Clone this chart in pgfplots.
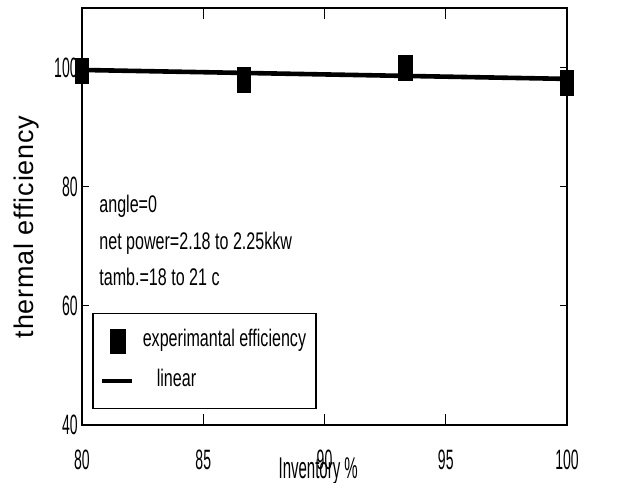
\documentclass[border=0pt]{standalone}
\usepackage{fontspec}
\setmainfont{Liberation Sans}
\newfontfamily\tickfont{Liberation Sans}[FakeStretch=0.5]
\newfontfamily\txtfont{Liberation Sans}[FakeStretch=0.67]
\newfontfamily\ylabfont{Liberation Sans}[LetterSpace=3]
\usepackage{pgfplots}
\pgfplotsset{compat=1.18}
\pgfplotsset{
  legimgA/.style={legend image code/.code={\path (0pt,0pt) (15pt,0pt); \draw[##1, mark size=3.5pt, mark options={yscale=1.7}] plot coordinates {(8pt,0pt)};}},
  legimgB/.style={legend image code/.code={\draw[##1, line width=2pt] (0pt,0pt) -- (15pt,0pt);}},
}
\begin{document}
\begin{tikzpicture}
\begin{axis}[
  scale only axis,
  width=242.5pt, height=208.5pt,
  xmin=80, xmax=100, ymin=40, ymax=110,
  xtick={80,85,90,95,100},
  ytick={40,60,80,100},
  tick align=inside,
  axis line style={line width=0.8pt},
  every tick/.style={black, line width=0.6pt},
  xtick style={/pgfplots/major tick length=5.5pt},
  ytick style={/pgfplots/major tick length=3.5pt},
  /pgf/number format/assume math mode=true,
  ticklabel style={font=\tickfont\fontsize{14}{14}\selectfont, inner sep=0pt},
  xticklabel style={yshift=-12.5pt},
  yticklabel style={xshift=-2pt},
  xlabel={Inventory \%},
  xlabel style={at={(axis description cs:0.487,0)}, anchor=north, inner sep=0pt, yshift=-16pt, font=\tickfont\fontsize{15}{15}\selectfont},
  ylabel={thermal efficiency},
  ylabel style={at={(axis description cs:-0.101,0.475)}, anchor=base, inner sep=0pt, font=\ylabfont\fontsize{13.5}{13.5}\selectfont},
  legend style={
    at={(axis description cs:0.0206,0.038)}, anchor=south west,
    draw=black, line width=0.8pt,
    inner xsep=3.5pt, inner ysep=8pt,
    font=\txtfont\fontsize{12}{12}\selectfont,
    nodes={inner sep=0pt, text height=8pt, text depth=3pt},
    row sep=8.5pt,
    /tikz/every odd column/.style={column sep=4.5pt},
  },
  legend cell align=left,
]
\addplot[only marks, mark=square*, mark size=3.3pt, mark options={yscale=1.9, fill=black, draw=black}, legimgA]
  coordinates {(80,99.5) (86.667,98.0) (93.333,100.0) (100,97.4)};
\addlegendentry{experimantal efficiency\hspace*{1.5pt}}
\addplot[black, line width=2.3pt, legimgB]
  coordinates {(80,99.6) (100,98.1)};
\addlegendentry{\hspace*{7pt}linear}
\node[anchor=base west, inner sep=0pt, font=\txtfont\fontsize{12}{12}\selectfont] at (axis cs:80.7,75.7) {angle=0};
\node[anchor=base west, inner sep=0pt, font=\txtfont\fontsize{12}{12}\selectfont] at (axis cs:80.7,69.4) {net power=2.18 to 2.25kkw};
\node[anchor=base west, inner sep=0pt, font=\txtfont\fontsize{12}{12}\selectfont] at (axis cs:80.7,63.5) {tamb.=18 to 21 c};
\end{axis}
\pgfresetboundingbox
\useasboundingbox ([shift={(-41pt,-28.5pt)}]current axis.south west) rectangle ([shift={(28.5pt,4pt)}]current axis.north east);
\end{tikzpicture}
\end{document}
